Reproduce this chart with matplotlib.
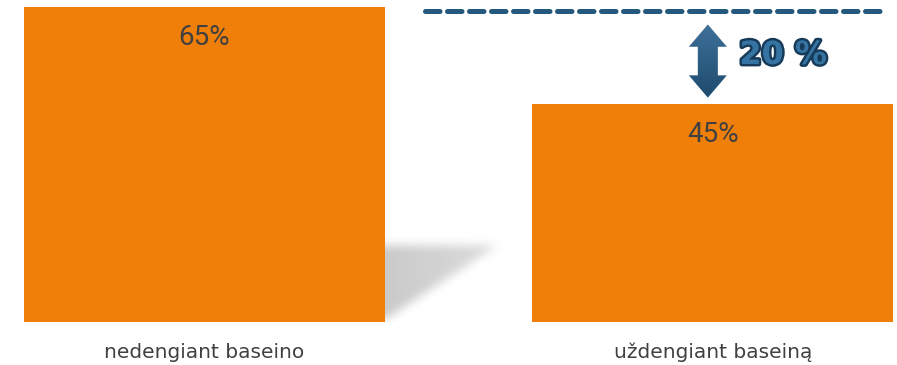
import matplotlib
matplotlib.use("Agg")
import matplotlib.pyplot as plt
import matplotlib.patheffects as pe
from matplotlib.patches import Polygon
import numpy as np

categories = ["nedengiant baseino", "uždengiant baseiną"]
values = [65, 45]
diff_label = "20 %"

orange = "#F07F09"
blue = "#24587E"
gray_text = "#404040"

fig = plt.figure(figsize=(8.97, 3.65), dpi=100)
ax = fig.add_axes([0, 43 / 365, 1, 322 / 365])

x = np.arange(len(values))
w = 0.71

# soft shadow behind the first bar (blurred triangle)
sx0 = x[0] + w / 2
ext = (sx0 - 0.02, sx0 + 0.30, -2.0, 21.0)
nx, ny = 160, 115
gx = np.linspace(ext[0], ext[1], nx)
gy = np.linspace(ext[2], ext[3], ny)
X, Y = np.meshgrid(gx, gy)
tip_x, top_y, bot_y = sx0 + 0.22, 15.8, 0.5
edge_x = sx0 + (tip_x - sx0) * (Y - bot_y) / (top_y - bot_y)
mask = ((Y <= top_y) & (Y >= bot_y) & (X <= edge_x)).astype(float)
mask *= np.clip(1.0 - 0.35 * (X - sx0) / (tip_x - sx0), 0, 1)
k = np.ones(11) / 11
for _ in range(2):
    mask = np.apply_along_axis(lambda r: np.convolve(r, k, mode="same"), 1, mask)
    mask = np.apply_along_axis(lambda c: np.convolve(c, k, mode="same"), 0, mask)
rgba = np.zeros((ny, nx, 4))
rgba[..., :3] = 0.62
rgba[..., 3] = mask * 0.55
ax.imshow(rgba, extent=ext, origin="lower", aspect="auto", zorder=1, interpolation="bilinear")

ax.bar(x, values, width=w, color=orange, zorder=2)

for xi, v in zip(x, values):
    ax.annotate(f"{v}%", (xi, v), xytext=(0, -22), textcoords="offset points",
                ha="center", va="center", fontsize=20, color=gray_text, zorder=3,
                family="Roboto")

# dashed reference line at the first value
ax.plot([0.434, 1.33], [64.2, 64.2], color=blue, lw=3.6, ls=(0, (2.9, 1.5)),
        dash_capstyle="round", zorder=3)

# double arrow between the two levels
ax_x = 0.99
lo, hi = values[1] + 1.3, values[0] - 3.6
hl = 4.6
sw, hw = 0.0197, 0.0374
arrow = [(ax_x, hi), (ax_x + hw, hi - hl), (ax_x + sw, hi - hl), (ax_x + sw, lo + hl),
         (ax_x + hw, lo + hl), (ax_x, lo), (ax_x - hw, lo + hl), (ax_x - sw, lo + hl),
         (ax_x - sw, hi - hl), (ax_x - hw, hi - hl)]
poly = Polygon(arrow, closed=True, facecolor="none", edgecolor="none", zorder=3)
ax.add_patch(poly)
grad = np.linspace(0, 1, 100).reshape(-1, 1)
cmap = matplotlib.colors.LinearSegmentedColormap.from_list("g", ["#1E4C6E", "#3F7099"])
im = ax.imshow(grad, cmap=cmap, extent=(ax_x - hw, ax_x + hw, lo, hi), origin="lower",
               aspect="auto", zorder=3)
im.set_clip_path(poly)

ax.text(1.052, 55.0, diff_label, fontsize=23, fontweight="bold", color="#3574a2",
        ha="left", va="center", zorder=4,
        path_effects=[pe.Stroke(linewidth=3.5, foreground="#163A58"), pe.Normal()])

ax.set_xlim(-0.402, 1.362)
ax.set_ylim(0, 66.45)
ax.set_xticks(x, categories, fontsize=14.5, color=gray_text)
ax.tick_params(axis="x", length=0, pad=15)
ax.set_yticks([])
for sp in ax.spines.values():
    sp.set_visible(False)

fig.savefig("out.png", dpi=100)
